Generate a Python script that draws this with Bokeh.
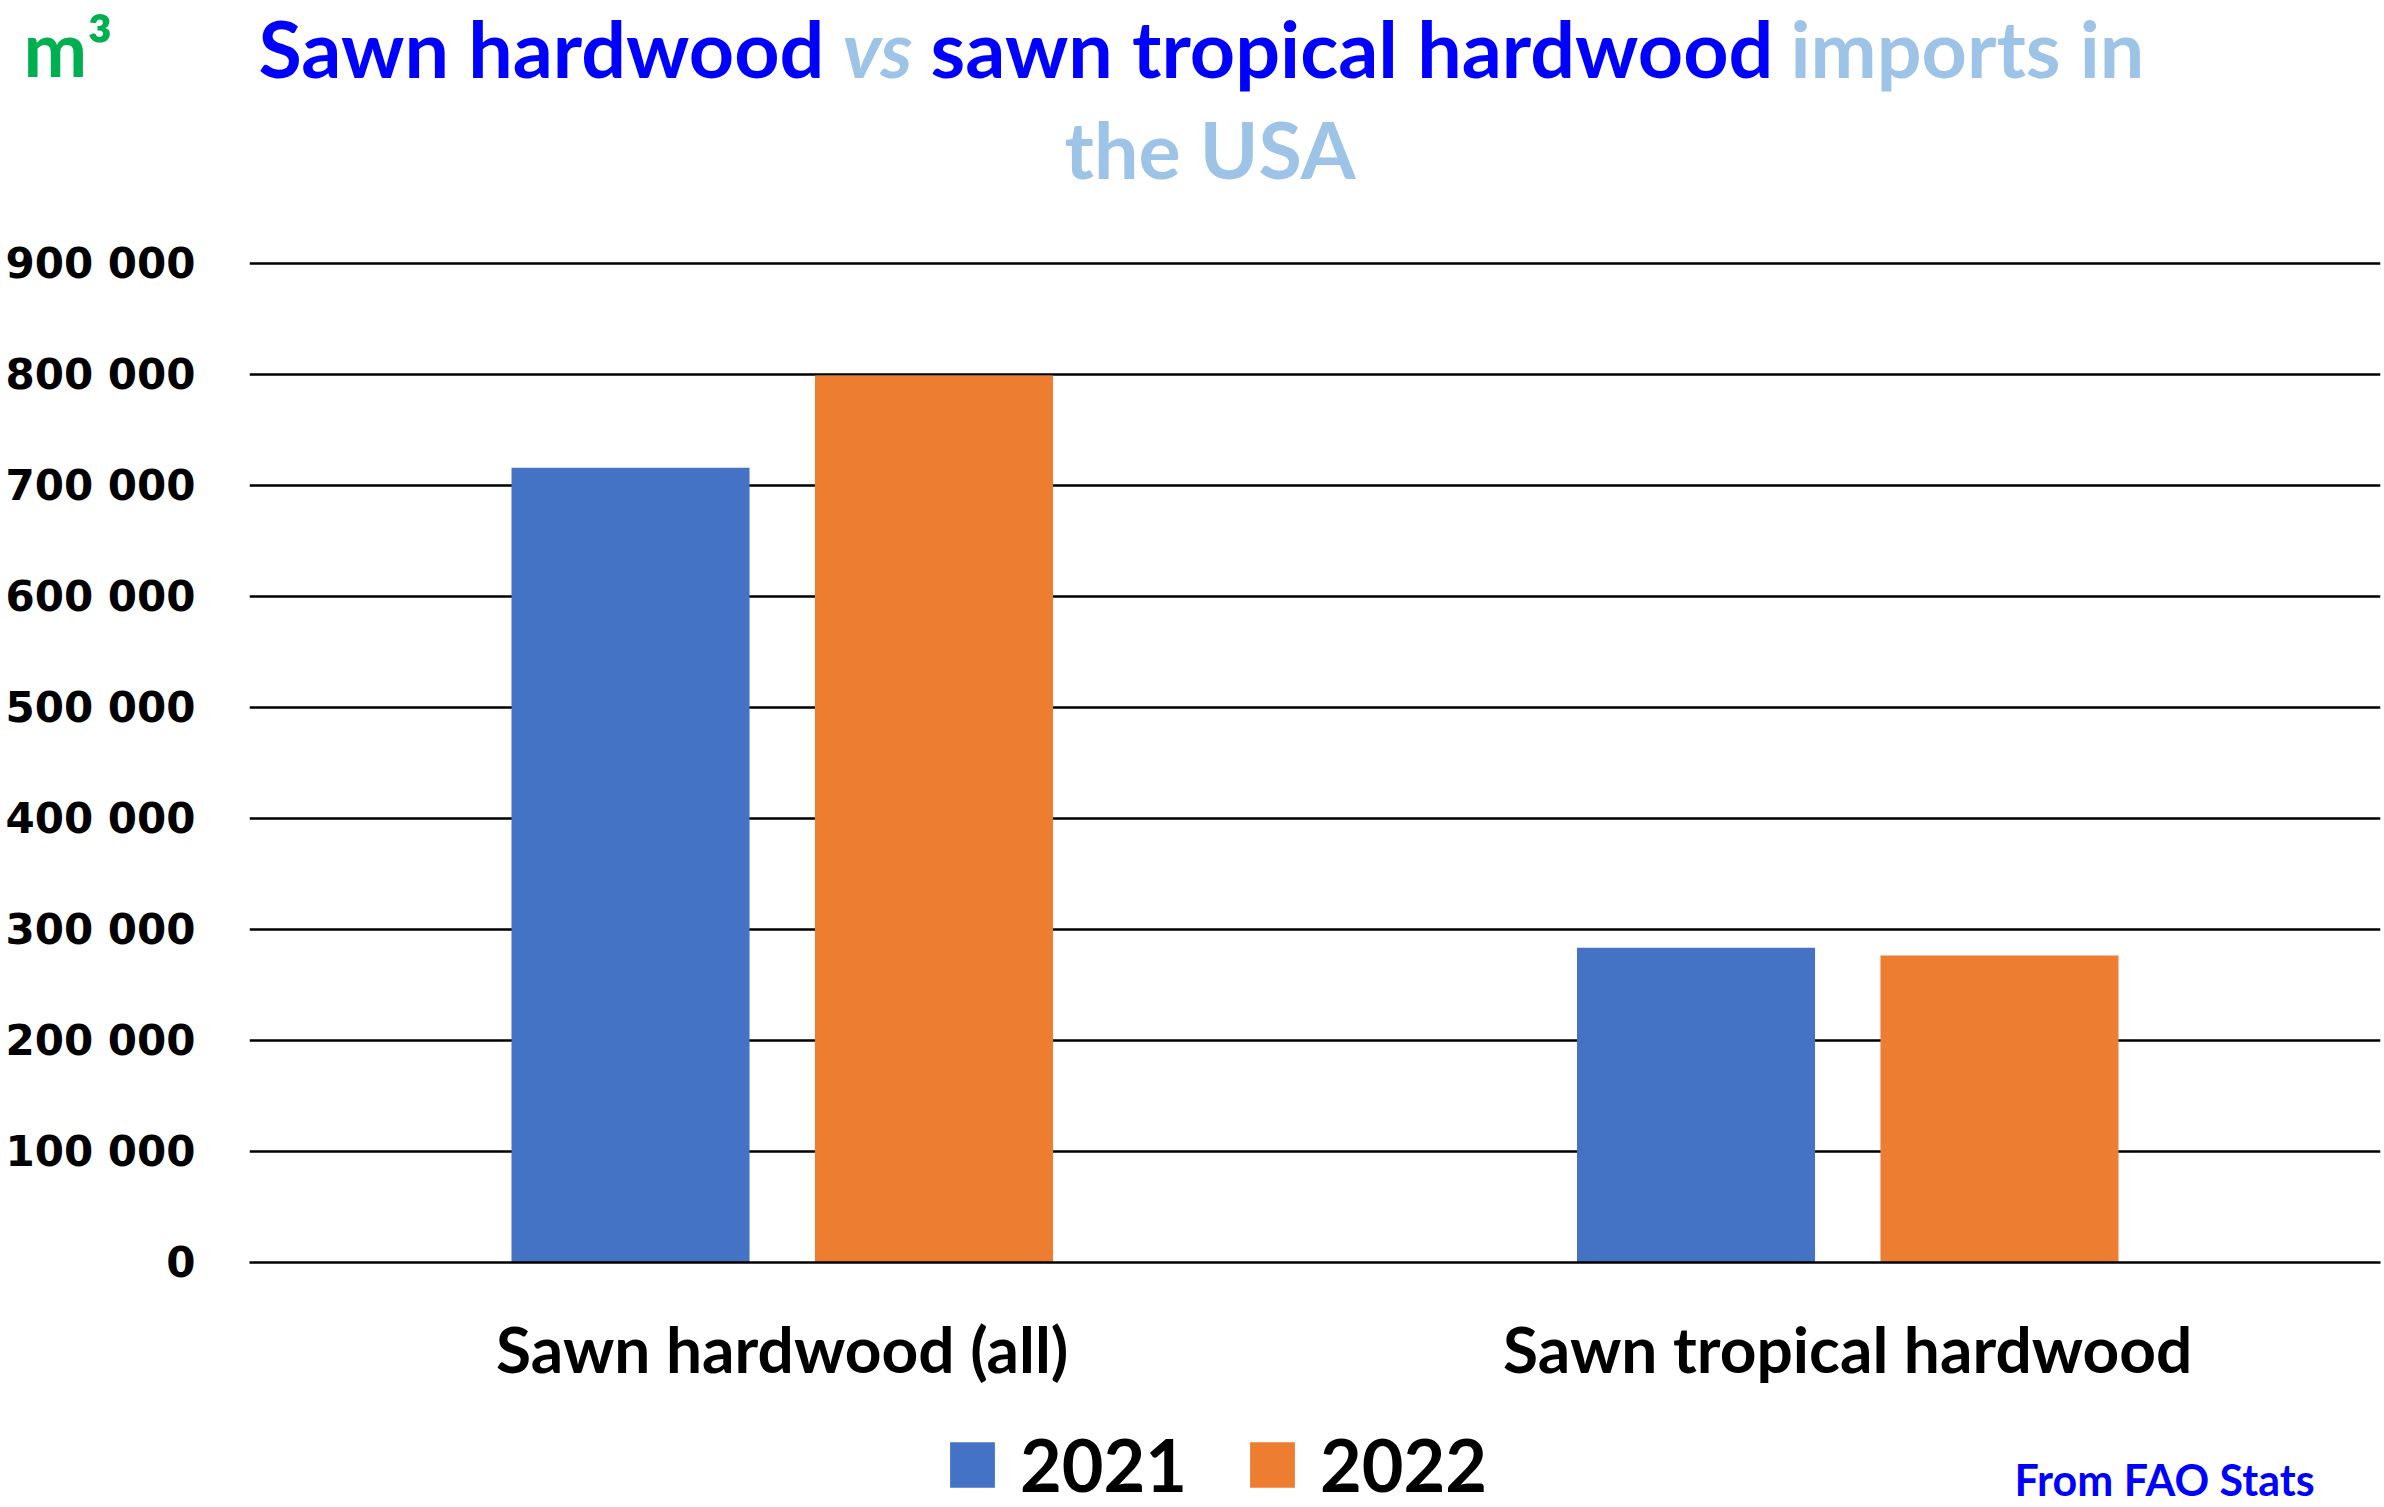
from bokeh.plotting import figure
from bokeh.layouts import column
from bokeh.models import (ColumnDataSource, FactorRange, Range1d, FixedTicker, Label,
                          Legend, LegendItem)
from bokeh.transform import dodge
from bokeh.embed import file_html
from bokeh.resources import INLINE

# ---- data ----
categories = ["Sawn hardwood (all)", "Sawn tropical hardwood"]
years = ["2021", "2022"]
values_2021 = [716000, 283500]
values_2022 = [799000, 276500]
y_ticks = [0, 100000, 200000, 300000, 400000, 500000, 600000, 700000, 800000, 900000]
y_tick_labels = ["0", "100 000", "200 000", "300 000", "400 000", "500 000",
                 "600 000", "700 000", "800 000", "900 000"]
title_parts = ["Sawn hardwood", "vs", "sawn tropical hardwood", "imports in"]
title_line2 = "the USA"
unit_text = "m³"
source_text = "From FAO Stats"

# ---- styling / layout ----
BLUE_T = "#0000FF"
LIGHT_T = "#9DC3E6"
GREEN = "#00B050"
BAR_COLORS = ["#4472C4", "#ED7D31"]
W = 2384
TOP_H = 235          # title strip
MAIN_BOTTOM = 1390   # page y where the chart figure ends
TOTAL_H = 1507
Y0_PAGE, Y900_PAGE = 1262, 263
FRAME_L = 249
px_per_val = (Y0_PAGE - Y900_PAGE) / 900000.0
BASE_SHIFT = 0.385   # renderer draws "alphabetic" text this many em lower

def base_y(y, size):
    return y - BASE_SHIFT * size

# ---------- title strip ----------
top = figure(width=W, height=TOP_H, x_range=Range1d(0, W), y_range=Range1d(TOP_H, 0),
             output_backend="svg", toolbar_location=None, min_border=0)
top.frame_align = False
top.axis.visible = False
top.grid.visible = False
top.outline_line_color = None

TS = 79
title_styles = [(BLUE_T, "bold"), (LIGHT_T, "bold italic"), (BLUE_T, "bold"), (LIGHT_T, "bold")]
title_x = [258, 842, 930, 1790]
for txt, (col, sty), fx in zip(title_parts, title_styles, title_x):
    top.add_layout(Label(x=fx, y=base_y(77, TS), text=txt, text_font="Lato", text_font_style=sty,
                         text_font_size=f"{TS}px", text_color=col, text_align="left",
                         text_baseline="alphabetic"))
top.add_layout(Label(x=1064, y=base_y(178, TS), text=title_line2, text_font="Lato",
                     text_font_style="bold", text_font_size=f"{TS}px", text_color=LIGHT_T,
                     text_align="left", text_baseline="alphabetic"))
top.add_layout(Label(x=23, y=base_y(76, 76), text=unit_text, text_font="Lato",
                     text_font_style="bold", text_font_size="76px", text_color=GREEN,
                     text_align="left", text_baseline="alphabetic"))

# ---------- main chart ----------
main_h = MAIN_BOTTOM - TOP_H
frame_h = Y0_PAGE - TOP_H
y_end = frame_h / px_per_val

src = ColumnDataSource(dict(cat=categories, v2021=values_2021, v2022=values_2022))
p = figure(width=W, height=main_h, x_range=FactorRange(factors=categories, range_padding=0),
           y_range=Range1d(0, y_end), output_backend="svg", toolbar_location=None,
           min_border_left=FRAME_L, min_border_right=4, min_border_top=0,
           min_border_bottom=MAIN_BOTTOM - Y0_PAGE)
p.frame_align = False
p.outline_line_color = None

BAR_W = 0.2234
OFF = 0.1424
r1 = p.vbar(x=dodge("cat", -OFF, range=p.x_range), top="v2021", width=BAR_W, source=src,
            fill_color=BAR_COLORS[0], line_color=None)
r2 = p.vbar(x=dodge("cat", OFF, range=p.x_range), top="v2022", width=BAR_W, source=src,
            fill_color=BAR_COLORS[1], line_color=None)

p.xgrid.grid_line_color = None
p.ygrid.grid_line_color = "black"
p.ygrid.grid_line_width = 2.5
p.ygrid.level = "underlay"
p.ygrid.ticker = FixedTicker(ticks=y_ticks)

p.yaxis.ticker = FixedTicker(ticks=y_ticks)
p.yaxis.major_label_overrides = {t: l for t, l in zip(y_ticks, y_tick_labels)}
p.yaxis.axis_line_color = None
p.yaxis.major_tick_line_color = None
p.yaxis.minor_tick_line_color = None
p.yaxis.major_tick_in = 0
p.yaxis.major_tick_out = 0
p.yaxis.major_label_text_font = "DejaVu Sans"
p.yaxis.major_label_text_font_style = "bold"
p.yaxis.major_label_text_font_size = "42px"
p.yaxis.major_label_text_color = "black"
p.yaxis.major_label_standoff = 54

p.xaxis.axis_line_color = "black"
p.xaxis.axis_line_width = 2.5
p.xaxis.major_tick_line_color = None
p.xaxis.minor_tick_line_color = None
p.xaxis.major_tick_in = 0
p.xaxis.major_tick_out = 0
p.xaxis.major_label_text_font = "Lato"
p.xaxis.major_label_text_font_style = "bold"
p.xaxis.major_label_text_font_size = "64px"
p.xaxis.major_label_text_color = "black"
p.xaxis.major_label_standoff = 47

# ---------- legend / source strip ----------
bot_h = TOTAL_H - MAIN_BOTTOM
bot = figure(width=W, height=bot_h, x_range=Range1d(0, W), y_range=Range1d(bot_h, 0),
             output_backend="svg", toolbar_location=None, min_border=0)
bot.frame_align = False
bot.axis.visible = False
bot.grid.visible = False
bot.outline_line_color = None
# legend proxies: one NaN row each so nothing is drawn in the strip itself
proxy = ColumnDataSource(dict(x=[float("nan")], top=[float("nan")]))
lr = [bot.vbar(x="x", top="top", width=1, source=proxy, fill_color=c, line_color=None)
      for c in BAR_COLORS]
legend = Legend(items=[LegendItem(label=y, renderers=[r]) for y, r in zip(years, lr)],
                location=(944, 0), orientation="horizontal",
                label_text_font="Lato", label_text_font_style="bold",
                label_text_font_size="72px", label_text_color="black",
                glyph_width=56, glyph_height=57, label_standoff=20, spacing=57,
                padding=0, margin=0, border_line_color=None, background_fill_alpha=0)
bot.add_layout(legend)
bot.add_layout(Label(x=2014, y=base_y(106, 43), text=source_text, text_font="Lato",
                     text_font_style="bold", text_font_size="43px", text_color=BLUE_T,
                     text_align="left", text_baseline="alphabetic"))

layout = column(top, p, bot, spacing=0)
open("out.html", "w").write(file_html(layout, INLINE))
